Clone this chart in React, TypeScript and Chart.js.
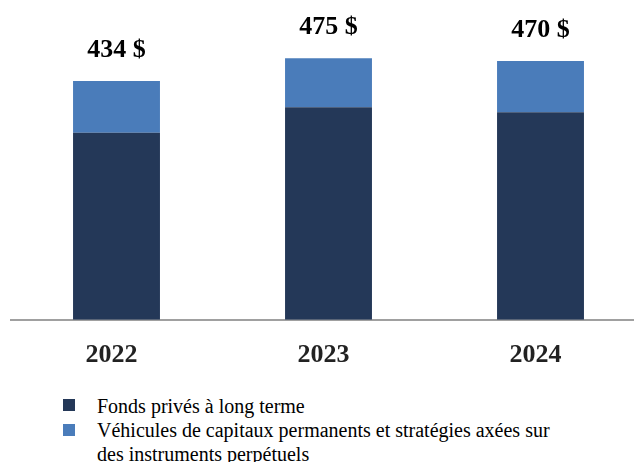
import React, { useEffect, useRef } from "react";
import { Chart, registerables } from "chart.js";

Chart.register(...registerables);

const categories = ["2022", "2023", "2024"];
const longTermFunds = [340, 386, 377];
const perpetualVehicles = [94, 89, 93];
const seriesNames = [
  "Fonds privés à long terme",
  "Véhicules de capitaux permanents et stratégies axées sur des instruments perpétuels",
];
const darkColor = "#243858";
const lightColor = "#4a7cba";
const serifFont = "'Liberation Serif', Tinos, serif";

const totalsPlugin = {
  id: "totals",
  afterDatasetsDraw(chart: any) {
    const ctx = chart.ctx;
    const meta = chart.getDatasetMeta(1);
    ctx.save();
    ctx.font = `bold 26px ${serifFont}`;
    ctx.fillStyle = "#000";
    ctx.textAlign = "center";
    ctx.textBaseline = "alphabetic";
    categories.forEach((_, i) => {
      const el = meta.data[i];
      const total = longTermFunds[i] + perpetualVehicles[i];
      ctx.fillText(`${total} $`, el.x, el.y - 24);
    });
    ctx.restore();
  },
};

export default function App() {
  const ref = useRef<HTMLCanvasElement>(null);
  useEffect(() => {
    if (!ref.current) return;
    const chart = new Chart(ref.current, {
      type: "bar",
      data: {
        datasets: [
          {
            label: seriesNames[0],
            data: longTermFunds.map((v, i) => ({ x: i, y: v })),
            backgroundColor: darkColor,
          },
          {
            label: seriesNames[1],
            data: perpetualVehicles.map((v, i) => ({ x: i, y: v })),
            backgroundColor: lightColor,
          },
        ],
      } as any,
      options: {
        animation: false,
        responsive: false,
        layout: { padding: { left: 10.5, right: 0, top: 0, bottom: 0 } },
        datasets: { bar: { barPercentage: 1, categoryPercentage: 0.41 } } as any,
        plugins: { legend: { display: false }, tooltip: { enabled: false } },
        scales: {
          x: {
            type: "linear",
            stacked: true,
            offset: false,
            min: -0.5,
            max: 2.441,
            afterBuildTicks: (axis: any) => {
              axis.ticks = categories.map((_, i) => ({ value: i }));
            },
            grid: { display: false, drawTicks: false, offset: false },
            border: { display: true, color: "#a0a0a0", width: 2 },
            ticks: {
              callback: (v: any) => categories[v] ?? "",
              font: { family: serifFont, size: 26, weight: "bold" },
              color: "#222",
              padding: 20,
              labelOffset: -5,
              maxRotation: 0,
              autoSkip: false,
            },
          },
          y: {
            stacked: true,
            display: false,
            min: 0,
            max: 581,
          },
        },
      } as any,
      plugins: [totalsPlugin],
    });
    return () => chart.destroy();
  }, []);

  const textStyle: React.CSSProperties = {
    position: "absolute",
    left: 97,
    fontFamily: serifFont,
    fontSize: 20,
    lineHeight: "24px",
    color: "#000",
    whiteSpace: "nowrap",
  };
  const sq = (color: string, top: number): React.CSSProperties => ({
    position: "absolute",
    left: 63,
    top,
    width: 12,
    height: 12,
    background: color,
  });

  return (
    <div style={{ position: "absolute", left: 0, top: 0, width: 634, height: 462, overflow: "hidden", background: "#fff" }}>
      <canvas ref={ref} width={634} height={391} style={{ position: "absolute", left: 0, top: 0 }} />
      <div style={sq(darkColor, 399)} />
      <div style={{ ...textStyle, top: 394 }}>{seriesNames[0]}</div>
      <div style={sq(lightColor, 424)} />
      <div style={{ ...textStyle, top: 418 }}>
        Véhicules de capitaux permanents et stratégies axées sur
        <br />
        des instruments perpétuels
      </div>
    </div>
  );
}
